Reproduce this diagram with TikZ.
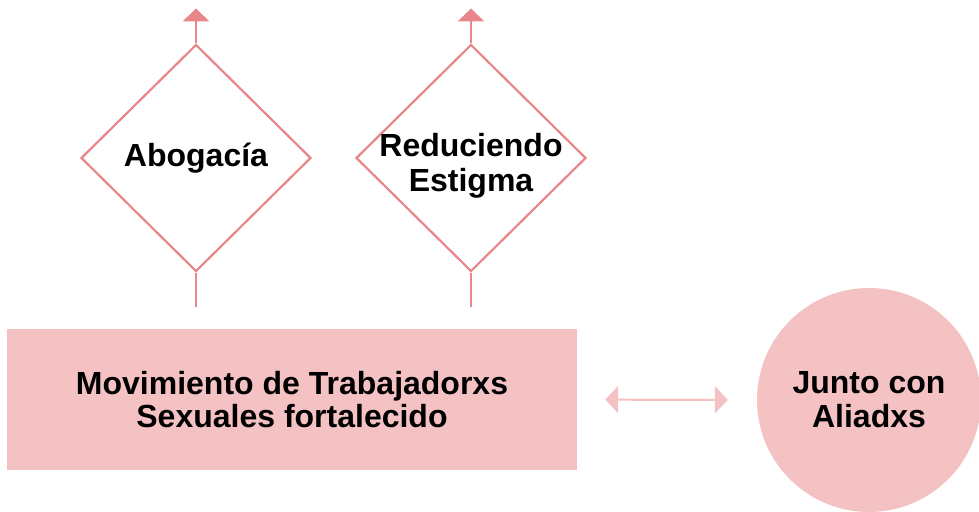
\documentclass[tikz,border=0pt]{standalone}
\usepackage{fontspec}
\setmainfont{Liberation Sans}
\usetikzlibrary{shapes.geometric, arrows.meta, positioning}
\definecolor{rosa}{HTML}{F4C2C2}
\definecolor{rosaoscuro}{HTML}{E8868A}

\begin{document}
\begin{tikzpicture}[
	x=1pt, y=1pt,
	% Styles used throughout the picture.
	rotulo/.style={align=center, font=\bfseries\fontsize{32}{35}\selectfont},
	rombo/.style={diamond, draw=rosaoscuro, line width=2.2pt, fill=white, minimum width=230pt, minimum height=227pt, inner sep=-40pt, rotulo},
	caja/.style={rectangle, fill=rosa, minimum width=570pt, minimum height=141pt, align=center, font=\bfseries\fontsize{32}{33}\selectfont},
	circulo/.style={circle, fill=rosa, minimum size=224pt, align=center, font=\bfseries\fontsize{32}{34}\selectfont},
	tallo/.style={draw=rosaoscuro, line width=2.2pt},
	flecha/.style={tallo, -{Triangle[length=13pt, width=26pt]}},
	doble/.style={draw=rosa, line width=2.2pt, {Triangle[length=13pt, width=27pt]}-{Triangle[length=13pt, width=27pt]}}
	]
	\useasboundingbox (0,0) rectangle (979,511);
	
	% === NODES ===
	\node[caja] (movimiento) at (292,111.5) {Movimiento de Trabajadorxs\\Sexuales fortalecido};
	\node[rombo] (abogacia) at (196,353) {Abogacía};
	\node[rombo, label={[rotulo, yshift=-8pt]center:Reduciendo\\Estigma}] (estigma) at (471,353) {};
	\node[circulo] (aliadxs) at (869,111) {Junto con\\Aliadxs};
	
	\coordinate[below=34pt of abogacia.south] (pie1);
	\coordinate[below=34pt of estigma.south] (pie2);
	\coordinate[above=35pt of abogacia.north] (punta1);
	\coordinate[above=35pt of estigma.north] (punta2);
	
	% === CONNECTIONS ===
	\draw[tallo] (abogacia.south) -- (pie1);
	\draw[tallo] (estigma.south) -- (pie2);
	\draw[flecha] (abogacia.north) -- (punta1);
	\draw[flecha] (estigma.north) -- (punta2);
	
	\draw[doble, shorten <=28pt, shorten >=29pt] (movimiento.east) -- (aliadxs.west);
\end{tikzpicture}
\end{document}
